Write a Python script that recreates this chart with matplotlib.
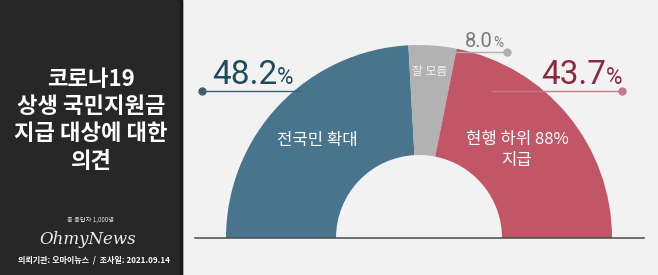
import matplotlib.pyplot as plt
from matplotlib.patches import Rectangle

plt.rcParams['font.family'] = ['Noto Sans CJK KR', 'DejaVu Sans']

# survey result (%)
labels = ['전국민 확대', '잘 모름', '현행 하위 88%\n지급']
values = [48.2, 8.0, 43.7]
colors = ['#48758d', '#b2b2b2', '#c25667']
text_colors = ['#1f4b5f', '#7a7a7a', '#8a2a3e']
line_colors = ['#3d5f70', '#b0b0b0', '#c77a88']

title_lines = ['코로나19', '상생 국민지원금', '지급 대상에 대한', '의견']
respondents = '총 응답자 1,000명'
footer = '의뢰기관: 오마이뉴스  /  조사일: 2021.09.14'

W, H = 658, 275
fig = plt.figure(figsize=(W / 100, H / 100), dpi=100)
fig.patch.set_facecolor('#f2f2f2')
ax = fig.add_axes([0, 0, 1, 1])

cx, cy = 419, H - 238
r_out, r_in = 193, 83

wedges, _ = ax.pie(values + [sum(values)], startangle=180, counterclock=False,
                   colors=colors + ['none'], radius=r_out, center=(cx, cy),
                   wedgeprops=dict(width=r_out - r_in, linewidth=0))
wedges[-1].set_visible(False)

ax.set_xlim(0, W)
ax.set_ylim(0, H)
ax.set_aspect('equal')
ax.set_axis_off()

# left dark panel
ax.add_patch(Rectangle((0, 0), 182, H, color='#272727', zorder=0))
ax.add_patch(Rectangle((180, 0), 2, H, color='#1a1a1a', zorder=0))

ax.plot([195, 644], [cy, cy], color='#4a4a4a', lw=1.1, zorder=3)

# labels inside the wedges
ax.text(317, H - 140, labels[0], color='white', fontsize=12, ha='center', va='center')
ax.text(430, H - 72, labels[1], color='#f0f0f0', fontsize=8.5, ha='center', va='center')
ax.text(517, H - 150, labels[2], color='white', fontsize=12, ha='center', va='center',
        linespacing=1.25)

# big percentages with leader lines
fig.canvas.draw()
rend = fig.canvas.get_renderer()
pct_specs = [
    # x_left, baseline y, size, line y, line x0, line x1, dot side
    (212, 84, 24, 91, 202, 300, 'left'),
    (465, 47, 14.5, 52, 453, 507, 'right'),
    (541, 84, 24, 91, 492, 622, 'right'),
]
for v, tc, lc, (x0, by, fs, ly, lx0, lx1, side) in zip(values, text_colors, line_colors, pct_specs):
    t = ax.text(x0, H - by, f'{v:.1f}', color=tc, fontsize=fs, ha='left', va='baseline',
                family='Roboto')
    bb = t.get_window_extent(rend)
    ax.text(bb.x1, H - by, '%', color=tc, fontsize=fs * 0.68, ha='left', va='baseline',
            family='Roboto')
    ax.plot([lx0, lx1], [H - ly, H - ly], color=lc, lw=1, zorder=1)
    dx = lx0 if side == 'left' else lx1
    ax.plot(dx, H - ly, 'o', color=lc, markersize=5, zorder=2)

# left panel texts
for i, line in enumerate(title_lines):
    ax.text(91, H - 79 - i * 27.5, line, color='white', fontsize=16, fontweight='bold',
            ha='center', va='center')
ax.text(90, H - 220, respondents, color='#dddddd', fontsize=4.5, ha='center', va='center')
ax.text(88, H - 240, 'OhmyNews', color='#eeeeee', fontsize=12, style='italic',
        family='DejaVu Serif', ha='center', va='center')
ax.text(94, H - 260, footer, color='white', fontsize=5.8, fontweight='bold',
        ha='center', va='center')

fig.savefig('out.png', dpi=100, facecolor=fig.get_facecolor())
